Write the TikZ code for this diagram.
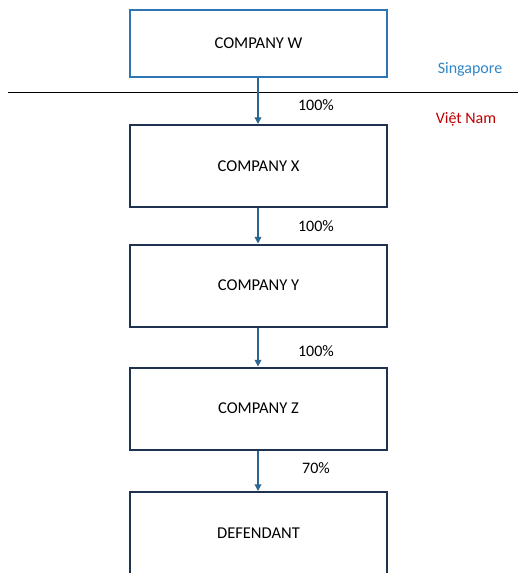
\documentclass[tikz,border=0pt]{standalone}
\usepackage{fontspec}
\setmainfont{Carlito}
\usetikzlibrary{arrows.meta, positioning}
\definecolor{wblue}{HTML}{2E75B6}
\definecolor{boxnavy}{HTML}{1F3350}
\definecolor{arrowblue}{HTML}{2A6690}
\definecolor{sgblue}{HTML}{2E86C8}
\definecolor{vnred}{HTML}{C00000}
\tikzset{
  % boxes for the companies
  company/.style={rectangle, draw=#1, line width=1.5pt, minimum width=257*0.75pt, minimum height=82*0.75pt, text centered, fill=white, font=\fontsize{12.4}{14}\selectfont},
  company/.default={boxnavy},
  share/.style={font=\fontsize{12}{14}\selectfont, anchor=center},
  own/.style={-{Triangle[length=5pt, width=5pt]}, draw=arrowblue, line width=1pt},
  country/.style={font=\fontsize{12}{14}\selectfont, text=#1},
}

\begin{document}
\begin{tikzpicture}[x=0.75pt, y=-0.75pt]
    \useasboundingbox (0,0) rectangle (518,573);

    % Singapore
    \node[company=wblue, minimum height=67*0.75pt] (w) at (258.5,43.5) {COMPANY W};

    % border line
    \draw[black, line width=0.75pt] (8,93) -- (518,93);
    \node[country=sgblue] (sg) at (470,69) {Singapore};
    \node[country=vnred] (vn) at (466,119) {Việt Nam};

    % Viet Nam
    \node[company] (x) at (258.5,166) {COMPANY X};
    \node[company] (y) at (258.5,285.5) {COMPANY Y};
    \node[company] (z) at (258.5,408.5) {COMPANY Z};
    \node[company] (def) at (258.5,533) {DEFENDANT};

    % Arrows
    \draw[own] (w.south -| 258,0) -- (x.north -| 258,0);
    \draw[own] (x.south -| 258,0) -- (y.north -| 258,0);
    \draw[own] (y.south -| 258,0) -- (z.north -| 258,0);
    \draw[own] (z.south -| 258,0) -- (def.north -| 258,0);

    % Shares
    \node[share] (s1) at (316,105) {100\%};
    \node[share] (s2) at (316,226) {100\%};
    \node[share] (s3) at (316,351) {100\%};
    \node[share] (s4) at (316,468) {70\%};
  \end{tikzpicture}
\end{document}
